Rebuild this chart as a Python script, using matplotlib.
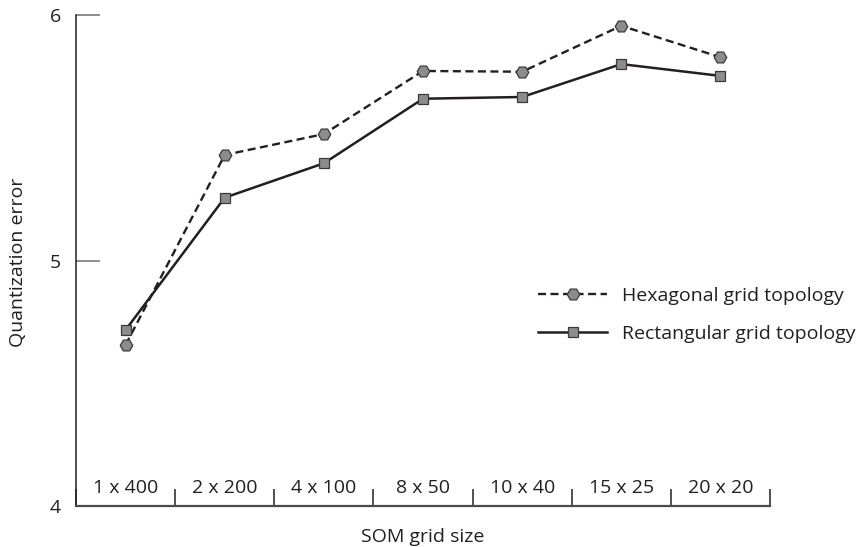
import matplotlib
matplotlib.use("Agg")
import matplotlib.pyplot as plt
import numpy as np

# SOM grid shapes (all 400 nodes) and mean quantization error per topology
grid_sizes = ["1 x 400", "2 x 200", "4 x 100", "8 x 50", "10 x 40", "15 x 25", "20 x 20"]
hexagonal = [4.656, 5.430, 5.515, 5.772, 5.769, 5.956, 5.828]
rectangular = [4.717, 5.256, 5.396, 5.659, 5.666, 5.800, 5.752]
y_ticks = [4, 5, 6]

plt.rcParams["font.family"] = ["Open Sans", "DejaVu Sans"]
text_color = "#231f20"
line_color = "#231f20"
face_color = "#8c8c8c"
fs = 14

fig = plt.figure(figsize=(8.57, 5.47), dpi=100)
ax = fig.add_axes([76 / 857, 41 / 547, 694 / 857, 491 / 547])

x = np.arange(len(grid_sizes))
ax.plot(x, hexagonal, color=line_color, lw=1.7, dashes=(3.4, 1.9),
        marker="H", markersize=9, markerfacecolor=face_color,
        markeredgecolor="#3a3a3a", markeredgewidth=0.9,
        label="Hexagonal grid topology", zorder=3)
ax.plot(x, rectangular, color=line_color, lw=1.8, linestyle="-",
        marker="s", markersize=7.3, markerfacecolor=face_color,
        markeredgecolor="#3a3a3a", markeredgewidth=0.9,
        label="Rectangular grid topology", zorder=3)

ax.set_xlim(-0.5, len(grid_sizes) - 0.5)
ax.set_ylim(4, 6)

for s in ("top", "right"):
    ax.spines[s].set_visible(False)
ax.spines["left"].set_color("#231f20")
ax.spines["left"].set_linewidth(1.1)
ax.spines["bottom"].set_color("#4a4a4a")
ax.spines["bottom"].set_linewidth(1.6)

# y axis: inward gray ticks
ax.set_yticks(y_ticks)
ax.set_yticklabels([str(t) for t in y_ticks])
ax.tick_params(axis="y", direction="in", length=17, width=1.2, color="#7a7a7a",
               labelsize=fs, labelcolor=text_color, pad=11)

# x axis: boundary ticks pointing up, labels centred inside the plot
ax.set_xticks(np.arange(len(grid_sizes) + 1) - 0.5, minor=True)
ax.set_xticks(x)
ax.set_xticklabels([])
ax.tick_params(axis="x", which="major", length=0)
ax.tick_params(axis="x", which="minor", direction="in", length=12, width=1.1,
               color="#231f20")
for xi, lab in zip(x, grid_sizes):
    ax.text(xi, 4.072, lab, ha="center", va="center", fontsize=fs, color=text_color)

fig.text(423 / 857, 1 - 537 / 547, "SOM grid size", ha="center", va="center",
         fontsize=fs, color=text_color)
fig.text(18 / 857, 1 - 262 / 547, "Quantization error", ha="center", va="center",
         rotation=90, fontsize=fs, color=text_color)

leg = ax.legend(loc="upper left", bbox_to_anchor=(538 / 857, 1 - 287 / 547),
                bbox_transform=fig.transFigure, frameon=False, fontsize=fs,
                handlelength=3.55, handletextpad=0.77, labelspacing=1.03,
                borderaxespad=0, borderpad=0)
for t in leg.get_texts():
    t.set_color(text_color)

fig.savefig("out.png", dpi=100)
